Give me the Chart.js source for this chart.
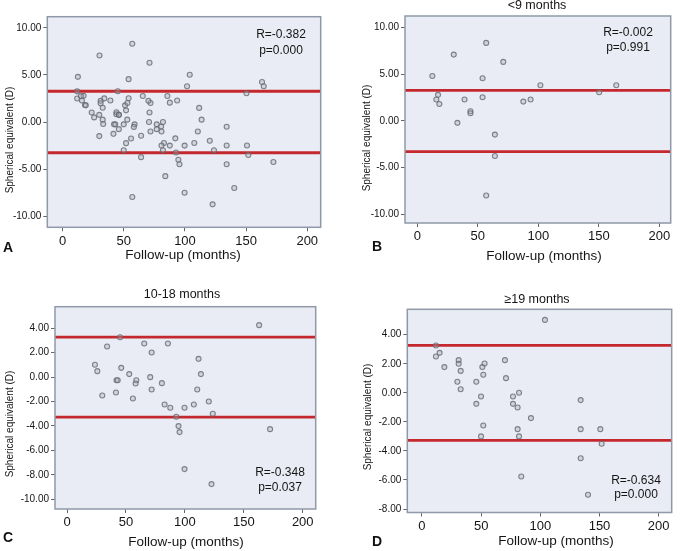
<!DOCTYPE html>
<html>
<head>
<meta charset="utf-8">
<script src="https://cdn.jsdelivr.net/npm/chart.js@4.4.1/dist/chart.umd.min.js"></script>
<style>
  html, body { margin: 0; padding: 0; background: #fff; }
  #wrap { position: relative; width: 685px; height: 551px; overflow: hidden; }
  canvas { position: absolute; }
</style>
</head>
<body>
<div id="wrap">
  <canvas id="pA" width="340" height="275" style="left:0;top:0"></canvas>
  <canvas id="pB" width="345" height="275" style="left:340px;top:0"></canvas>
  <canvas id="pC" width="340" height="276" style="left:0;top:275px"></canvas>
  <canvas id="pD" width="345" height="276" style="left:340px;top:275px"></canvas>
</div>
<script>
/* ===== DATA ===== */
// follow-up (months) / spherical equivalent (D), one pair of arrays per subgroup
const B_FU = [12.4, 30.1, 56.9, 71, 53.9, 101.7, 164.4, 150.3, 17.1, 15.7, 18.2, 39, 53.9, 87.6, 93.6, 43.9, 43.9, 33.1, 64.1, 64.1, 56.9];
const B_SE = [4.8, 7.08, 8.33, 6.3, 4.56, 3.8, 3.8, 3.06, 2.78, 2.28, 1.81, 2.28, 2.53, 2.06, 2.28, 1.03, 0.82, -0.21, -1.46, -3.74, -7.97];

const C_FU = [163, 45, 34, 65.5, 85.6, 71.8, 111.6, 23.7, 25.7, 46, 52.8, 113.6, 42, 43, 58.8, 58.2, 70.6, 80.5, 71.8, 29.9,
              41.5, 55.9, 110.5, 82.8, 87.6, 99.7, 107.6, 120.3, 123.7, 92.7, 94.6, 95.5, 172.3, 99.7, 122.6];
const C_SE = [4.26, 3.27, 2.51, 2.76, 2.76, 2.02, 1.5, 1.01, 0.49, 0.76, 0.25, 0.25, -0.25, -0.25, -0.25, -0.52, 0, -0.49, -1.01, -1.5,
              -1.26, -1.75, -1.01, -2.24, -2.51, -2.51, -2.24, -1.99, -3.0, -3.25, -4.01, -4.5, -4.26, -7.53, -8.76];

const D_FU = [103.9, 11.8, 11.8, 14.9, 18.9, 31, 31, 32.7, 29.9, 32.7, 45.9, 49.9, 45.9, 51, 52.9, 51.8, 70.1, 71, 82, 76.9,
              76.9, 80.8, 92.1, 51.8, 49.9, 80.8, 82, 83.9, 134.1, 134.1, 150.7, 151.8, 134.1, 140.3];
const D_SE = [5.02, 3.26, 2.5, 2.75, 1.77, 2.25, 2.0, 1.51, 0.76, 0.25, 0.76, -0.25, -0.76, 1.77, 2.02, 1.24, 2.25, 1.01, 0, -0.25,
              -0.76, -1.01, -1.74, -2.25, -3.0, -2.5, -3.0, -5.76, -0.5, -2.5, -2.5, -3.51, -4.5, -7.02];

// panel A = all eyes
const A_FU = [...B_FU, ...C_FU, ...D_FU];
const A_SE = [...B_SE, ...C_SE, ...D_SE];

const REF_LINES = [3.27, -3.27];
const X_TICKS = [0, 50, 100, 150, 200];
const Y_TICKS_WIDE = [-10, -5, 0, 5, 10];
const Y_TICKS_C = [-10, -8, -6, -4, -2, 0, 2, 4];
const Y_TICKS_D = [-8, -6, -4, -2, 0, 2, 4];

const STATS = {A: ['R=-0.382', 'p=0.000'], B: ['R=-0.002', 'p=0.991'], C: ['R=-0.348', 'p=0.037'], D: ['R=-0.634', 'p=0.000']};
const TITLES = {A: '', B: '<9 months', C: '10-18 months', D: '\u226519 months'};
const X_TITLE = 'Follow-up (months)';
const Y_TITLE = 'Spherical equivalent (D)';

/* ===== STYLE ===== */
const FONT = '"Liberation Sans", Arial, Helvetica, sans-serif';
const PLOT_BG = '#e9ecf4';
const FRAME = '#8f99a8';
const RED = '#c4282e';

// per panel layout (canvas-local px) and axis ranges
const PANELS = {
  A: {id: 'pA', fu: A_FU, se: A_SE, yTicks: Y_TICKS_WIDE, xr: [-12.6, 211], yr: [-11.2, 11.2],
      yw: 47.3, xh: 47.7, pt: 16.7, pr: 19.3,
      stat: [281, 35, 50.7], title: null, letter: [3, 248], xt: [183, 255], yt: [10, 140]},
  B: {id: 'pB', fu: B_FU, se: B_SE, yTicks: Y_TICKS_WIDE, xr: [-10.2, 209.4], yr: [-10.9, 11.2],
      yw: 65, xh: 52, pt: 16, pr: 14.3,
      stat: [288, 33, 48], title: [197, 6], letter: [32, 247], xt: [204, 256], yt: [27, 138]},
  C: {id: 'pC', fu: C_FU, se: C_SE, yTicks: Y_TICKS_C, xr: [-10.2, 211], yr: [-10.8, 5.77],
      yw: 55, xh: 42, pt: 31.7, pr: 24.3,
      stat: [280, 198, 213], title: [182, 20], letter: [3, 263], xt: [186, 267], yt: [10, 149]},
  D: {id: 'pD', fu: D_FU, se: D_SE, yTicks: Y_TICKS_D, xr: [-12.4, 211], yr: [-8.24, 5.75],
      yw: 67.3, xh: 38.5, pt: 34.3, pr: 13.3,
      stat: [296, 206, 220], title: [197, 25], letter: [32, 267], xt: [216, 266], yt: [28, 142]}
};

/* ===== HELPERS ===== */
const decor = key => ({
  id: 'decor' + key,
  beforeDatasetsDraw(chart) {
    const {ctx, chartArea: a} = chart;
    ctx.save();
    ctx.fillStyle = PLOT_BG;
    ctx.fillRect(a.left, a.top, a.right - a.left, a.bottom - a.top);
    ctx.restore();
  },
  afterDraw(chart) {
    const p = PANELS[key];
    const {ctx, chartArea: a} = chart;
    ctx.save();
    ctx.strokeStyle = FRAME;
    ctx.lineWidth = 1.5;
    ctx.strokeRect(a.left, a.top, a.right - a.left, a.bottom - a.top);

    ctx.fillStyle = '#151515';
    ctx.textAlign = 'center';
    ctx.textBaseline = 'middle';
    ctx.font = '12px ' + FONT;
    ctx.fillText(STATS[key][0], p.stat[0], p.stat[1]);
    ctx.fillText(STATS[key][1], p.stat[0], p.stat[2]);

    if (p.title) {
      ctx.font = '12.5px ' + FONT;
      ctx.fillText(TITLES[key], p.title[0], p.title[1]);
    }
    ctx.font = '13.5px ' + FONT;
    ctx.fillText(X_TITLE, p.xt[0], p.xt[1]);

    ctx.save();
    ctx.translate(p.yt[0], p.yt[1]);
    ctx.rotate(-Math.PI / 2);
    ctx.font = '10px ' + FONT;
    ctx.fillText(Y_TITLE, 0, 0);
    ctx.restore();

    ctx.fillStyle = '#111';
    ctx.textAlign = 'left';
    ctx.font = 'bold 14px ' + FONT;
    ctx.fillText(key, p.letter[0], p.letter[1]);
    ctx.restore();
  }
});

function makePanel(key) {
  const p = PANELS[key];
  const pts = p.fu.map((x, i) => ({x, y: p.se[i]}));
  const refSets = REF_LINES.map(v => ({
    data: [{x: p.xr[0], y: v}, {x: p.xr[1], y: v}],
    showLine: true, pointRadius: 0, borderColor: RED, borderWidth: 2.8
  }));
  new Chart(document.getElementById(p.id), {
    type: 'scatter',
    data: {
      datasets: [
        {data: pts, pointRadius: 2.5, pointBorderWidth: 1.1,
         pointBorderColor: 'rgba(100,104,112,0.8)', pointBackgroundColor: 'rgba(165,168,176,0.35)'},
        ...refSets
      ]
    },
    options: {
      responsive: false,
      animation: false,
      devicePixelRatio: 1,
      layout: {padding: {left: 0, bottom: 0, top: p.pt, right: p.pr}},
      plugins: {legend: {display: false}, tooltip: {enabled: false}},
      scales: {
        x: {
          type: 'linear', min: p.xr[0], max: p.xr[1],
          afterBuildTicks: s => { s.ticks = X_TICKS.map(value => ({value})); },
          afterFit: s => { s.height = p.xh; },
          grid: {drawOnChartArea: false, tickLength: 4, color: '#666'},
          border: {display: false},
          ticks: {font: {size: 13, family: FONT}, color: '#151515', padding: 2, maxRotation: 0}
        },
        y: {
          type: 'linear', min: p.yr[0], max: p.yr[1],
          afterBuildTicks: s => { s.ticks = p.yTicks.map(value => ({value})); },
          afterFit: s => { s.width = p.yw; },
          grid: {drawOnChartArea: false, tickLength: 4, color: '#666'},
          border: {display: false},
          ticks: {font: {size: 10, family: FONT}, color: '#151515', padding: 2,
                  callback: v => Number(v).toFixed(2)}
        }
      }
    },
    plugins: [decor(key)]
  });
}

['A', 'B', 'C', 'D'].forEach(makePanel);
</script>
</body>
</html>
